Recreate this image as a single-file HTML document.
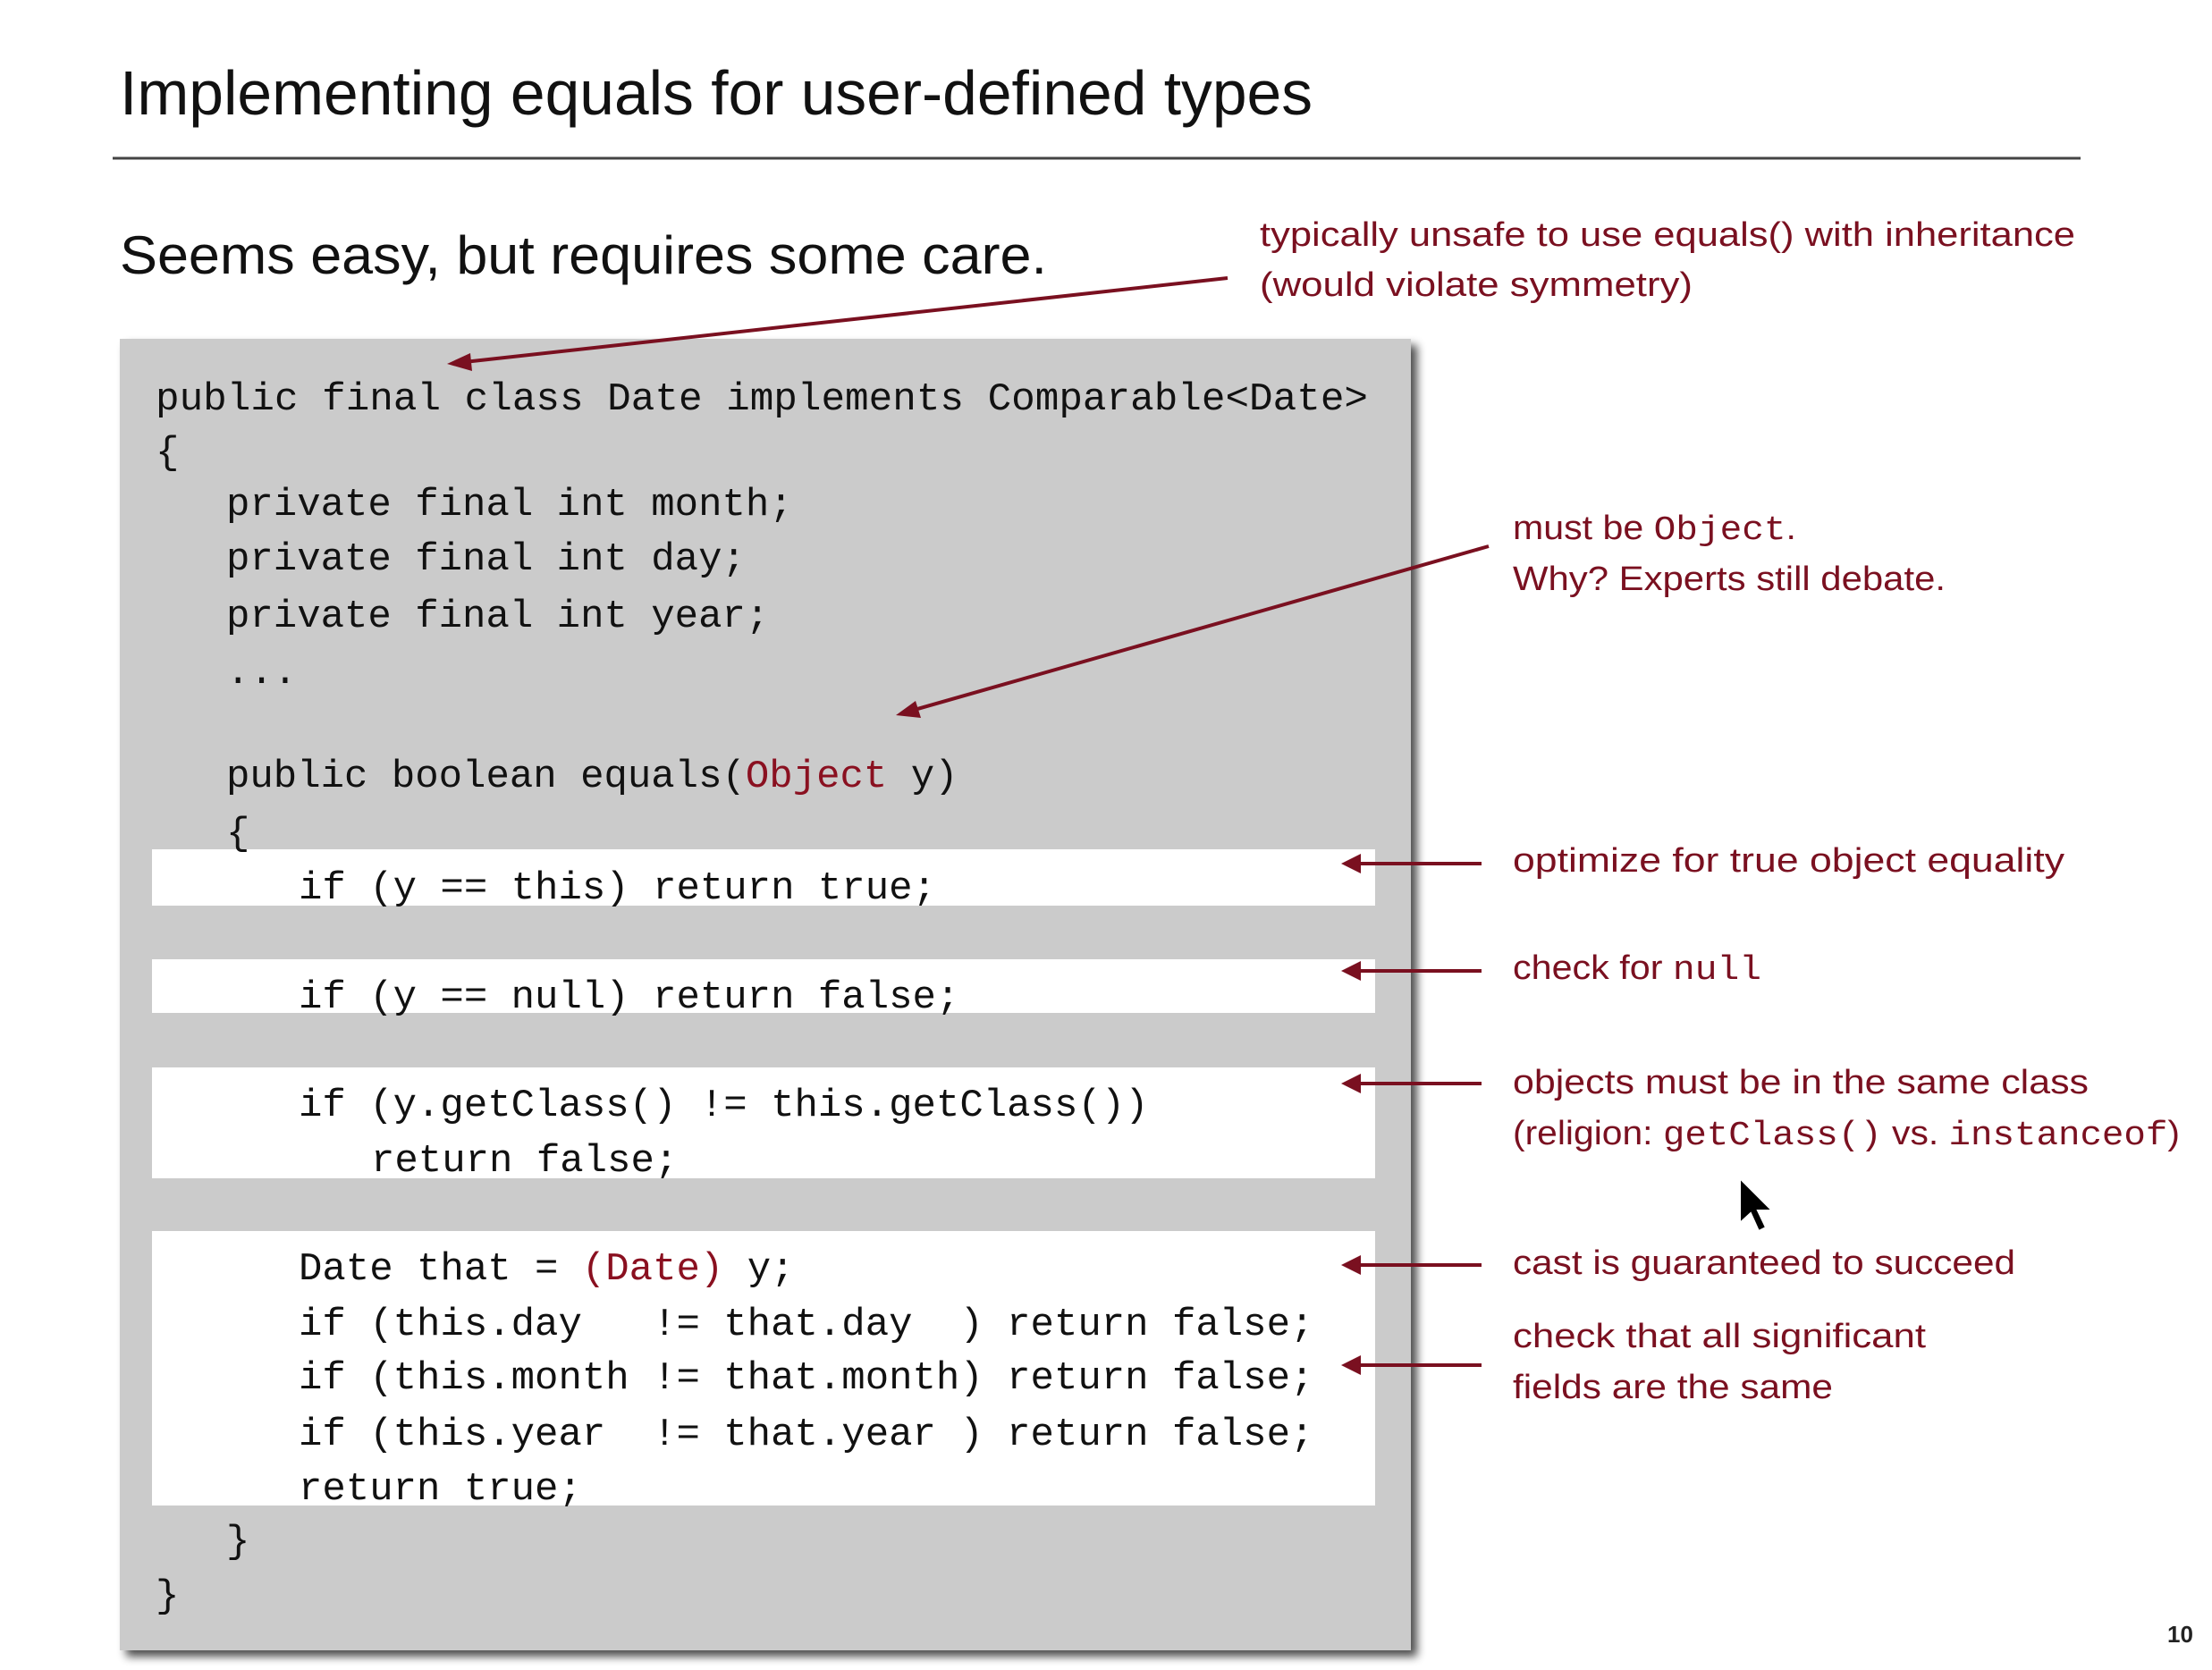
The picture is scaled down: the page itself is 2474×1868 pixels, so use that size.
<!DOCTYPE html>
<html><head><meta charset="utf-8"><style>
html,body{margin:0;padding:0;background:#fff;}
svg{display:block;}
.t{font-family:"Liberation Sans",sans-serif;}
.m{font-family:"Liberation Mono",monospace;font-size:44px;fill:#111;}
.a{font-family:"Liberation Sans",sans-serif;font-size:38px;fill:#7a1020;}
.am{font-family:"Liberation Mono",monospace;}
.r{fill:#8a1020;}
</style></head><body>
<svg width="2474" height="1868" viewBox="0 0 2474 1868" xmlns="http://www.w3.org/2000/svg">
<defs>
<marker id="ah" markerWidth="10" markerHeight="10" refX="8" refY="5" orient="auto" markerUnits="userSpaceOnUse" viewBox="0 0 10 10">
</marker>
<filter id="sh" x="-5%" y="-5%" width="115%" height="115%"><feGaussianBlur in="SourceAlpha" stdDeviation="5"/><feOffset dx="7" dy="7"/><feComponentTransfer><feFuncA type="linear" slope="0.7"/></feComponentTransfer><feMerge><feMergeNode/><feMergeNode in="SourceGraphic"/></feMerge></filter>
</defs>
<rect width="2474" height="1868" fill="#fff"/>
<text class="t" x="134" y="128" font-size="70" fill="#111" textLength="1334" lengthAdjust="spacingAndGlyphs">Implementing equals for user-defined types</text>
<line x1="126" y1="177" x2="2327" y2="177" stroke="#444" stroke-width="3"/>
<text class="t" x="134" y="306" font-size="60" fill="#111" textLength="1037" lengthAdjust="spacingAndGlyphs">Seems easy, but requires some care.</text>

<rect x="134" y="379" width="1444" height="1467" fill="#cbcbcb" filter="url(#sh)"/>
<rect x="170" y="950" width="1368" height="63" fill="#fff"/>
<rect x="170" y="1073" width="1368" height="60" fill="#fff"/>
<rect x="170" y="1194" width="1368" height="124" fill="#fff"/>
<rect x="170" y="1377" width="1368" height="307" fill="#fff"/>

<g class="m">
<text x="174" y="458" textLength="1356" lengthAdjust="spacingAndGlyphs">public final class Date implements Comparable&lt;Date&gt;</text>
<text x="174" y="518">{</text>
<text x="253" y="576">private final int month;</text>
<text x="253" y="637">private final int day;</text>
<text x="253" y="701">private final int year;</text>
<text x="253" y="764">...</text>
<text x="253" y="880">public boolean equals(<tspan class="r">Object</tspan> y)</text>
<text x="253" y="944">{</text>
<text x="334" y="1005">if (y == this) return true;</text>
<text x="334" y="1127">if (y == null) return false;</text>
<text x="334" y="1248">if (y.getClass() != this.getClass())</text>
<text x="415" y="1310">return false;</text>
<text x="334" y="1431">Date that = <tspan class="r">(Date)</tspan> y;</text>
<text x="334" y="1493" xml:space="preserve">if (this.day   != that.day  ) return false;</text>
<text x="334" y="1553">if (this.month != that.month) return false;</text>
<text x="334" y="1616" xml:space="preserve">if (this.year  != that.year ) return false;</text>
<text x="334" y="1677">return true;</text>
<text x="253" y="1736">}</text>
<text x="174" y="1797">}</text>
</g>

<g stroke="#7a1020" stroke-width="4" fill="#7a1020">
<line x1="1373" y1="311" x2="510" y2="406"/>
<polygon points="500,407 526,395 528,415" stroke="none"/>
<line x1="1665" y1="611" x2="1012" y2="797"/>
<polygon points="1002,800 1024,784 1030,803" stroke="none"/>
<line x1="1657" y1="966" x2="1510" y2="966"/>
<polygon points="1500,966 1522,955 1522,977" stroke="none"/>
<line x1="1657" y1="1086" x2="1510" y2="1086"/>
<polygon points="1500,1086 1522,1075 1522,1097" stroke="none"/>
<line x1="1657" y1="1212" x2="1510" y2="1212"/>
<polygon points="1500,1212 1522,1201 1522,1223" stroke="none"/>
<line x1="1657" y1="1415" x2="1510" y2="1415"/>
<polygon points="1500,1415 1522,1404 1522,1426" stroke="none"/>
<line x1="1657" y1="1527" x2="1510" y2="1527"/>
<polygon points="1500,1527 1522,1516 1522,1538" stroke="none"/>
</g>

<g class="a">
<text x="1409" y="275" textLength="912" lengthAdjust="spacingAndGlyphs">typically unsafe to use equals() with inheritance</text>
<text x="1409" y="331" textLength="484" lengthAdjust="spacingAndGlyphs">(would violate symmetry)</text>
<text x="1692" y="603" textLength="317" lengthAdjust="spacingAndGlyphs">must be <tspan class="am">Object</tspan>.</text>
<text x="1692" y="660" textLength="484" lengthAdjust="spacingAndGlyphs">Why? Experts still debate.</text>
<text x="1692" y="975" textLength="617" lengthAdjust="spacingAndGlyphs">optimize for true object equality</text>
<text x="1692" y="1095" textLength="278" lengthAdjust="spacingAndGlyphs">check for <tspan class="am">null</tspan></text>
<text x="1692" y="1223" textLength="644" lengthAdjust="spacingAndGlyphs">objects must be in the same class</text>
<text x="1692" y="1280" textLength="746" lengthAdjust="spacingAndGlyphs">(religion: <tspan class="am">getClass()</tspan> vs. <tspan class="am">instanceof</tspan>)</text>
<text x="1692" y="1425" textLength="562" lengthAdjust="spacingAndGlyphs">cast is guaranteed to succeed</text>
<text x="1692" y="1507" textLength="462" lengthAdjust="spacingAndGlyphs">check that all significant</text>
<text x="1692" y="1564" textLength="358" lengthAdjust="spacingAndGlyphs">fields are the same</text>
</g>

<polygon points="1946,1318 1946,1368 1958,1357 1967,1377 1975,1373 1966,1354 1982,1354" fill="#000" stroke="#fff" stroke-width="2"/>
<text class="t" x="2424" y="1837" font-size="26" font-weight="bold" fill="#222">10</text>
</svg>
</body></html>
